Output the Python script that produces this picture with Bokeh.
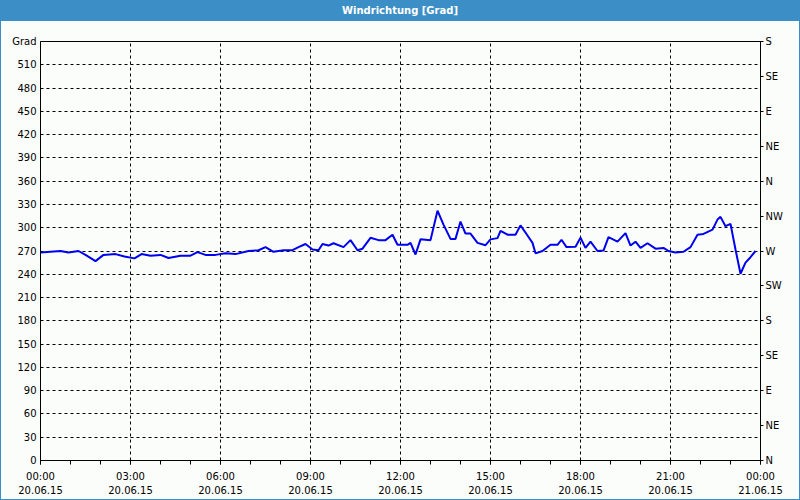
from bokeh.plotting import figure
from bokeh.models import LinearAxis, FixedTicker, Div, ColumnDataSource
from bokeh.layouts import column
from bokeh.embed import file_html
from bokeh.resources import INLINE

# ---- data ----
title_text = "Windrichtung [Grad]"
minutes = [0, 40, 56, 76, 90, 110, 126, 150, 168, 188, 202, 220, 240, 256, 280,
           300, 314, 330, 350, 370, 390, 416, 436, 450, 466, 486, 504, 516, 530,
           544, 556, 564, 576, 586, 606, 620, 634, 644, 660, 676, 690, 704, 714,
           734, 740, 750, 760, 780, 794, 806, 820, 830, 840, 850, 860, 874, 890,
           900, 914, 920, 934, 950, 960, 974, 984, 990, 1004, 1020, 1034, 1042,
           1052, 1070, 1080, 1090, 1100, 1114, 1126, 1136, 1154, 1170, 1180,
           1190, 1200, 1214, 1230, 1246, 1256, 1270, 1286, 1300, 1314, 1326,
           1344, 1354, 1360, 1370, 1380, 1390, 1400, 1410, 1420, 1430]
direction = [268, 270, 268, 270, 265, 257, 265, 266, 263, 260.5, 266, 264, 265,
             261, 264, 264, 268.5, 265, 265, 267, 266, 270, 271, 275, 269, 271,
             271, 275, 279, 272, 271, 279, 277, 280, 275, 284, 271, 273, 287,
             284, 284, 291, 278, 278, 280.5, 265.5, 285, 284, 322, 304, 285.6,
             285.6, 308, 292.5, 292.5, 280.5, 277.5, 285, 286.6, 296, 291, 291,
             303, 290, 280.5, 267, 270, 278, 278, 284.5, 275, 275.5, 287, 274,
             282, 270, 270.5, 288, 282, 293, 277, 282, 274, 280, 273, 274, 270,
             268, 269, 275, 291, 292, 297.5, 310.5, 314, 302, 305, 272, 240.7,
             255, 262, 270]
time_ticks = [0, 3, 6, 9, 12, 15, 18, 21, 24]
time_labels = ["00:00\n20.06.15", "03:00\n20.06.15", "06:00\n20.06.15",
               "09:00\n20.06.15", "12:00\n20.06.15", "15:00\n20.06.15",
               "18:00\n20.06.15", "21:00\n20.06.15", "00:00\n21.06.15"]
deg_ticks = list(range(0, 541, 30))
deg_unit = "Grad"
compass_ticks = list(range(0, 541, 45))
compass_labels = ["N", "NE", "E", "SE", "S", "SW", "W", "NW", "N", "NE", "E", "SE", "S"]

BLUE = "#3C8FC6"
BG = "#FBFDFB"
FONT = "DejaVu Sans"

src = ColumnDataSource(dict(h=[m / 60 for m in minutes], d=direction))

p = figure(width=798, height=478, x_range=(0, 24), y_range=(0, 540),
           output_backend="svg", toolbar_location=None,
           min_border_left=39, min_border_right=39, min_border_top=20,
           min_border_bottom=38, background_fill_color=BG, border_fill_color=BG,
           outline_line_color="black", outline_line_width=1)

p.line("h", "d", source=src, line_color="#0000F0", line_width=2)

# bottom axis
xa = p.xaxis[0]
xa.ticker = FixedTicker(ticks=time_ticks, minor_ticks=list(range(0, 25)))
xa.major_label_overrides = {t: l for t, l in zip(time_ticks, time_labels)}
xa.major_tick_out = 4
xa.major_tick_in = 0
xa.minor_tick_out = 4
xa.minor_tick_in = 0
xa.axis_line_color = "black"
xa.major_label_standoff = 6
xa.major_label_text_font = FONT
xa.major_label_text_font_size = "10px"
xa.major_label_text_color = "black"
xa.major_label_text_line_height = 1.35

# left axis
ya = p.yaxis[0]
ya.ticker = FixedTicker(ticks=deg_ticks, minor_ticks=[])
ya.major_label_overrides = {540: deg_unit}
ya.major_tick_out = 0
ya.major_tick_in = 0
ya.major_label_standoff = 4
ya.major_label_text_font = FONT
ya.major_label_text_font_size = "10px"
ya.major_label_text_color = "black"
ya.axis_line_color = "black"

# right axis
ra = LinearAxis(ticker=FixedTicker(ticks=compass_ticks, minor_ticks=[]))
ra.major_label_overrides = {t: l for t, l in zip(compass_ticks, compass_labels)}
ra.major_tick_out = 3
ra.major_tick_in = 0
ra.major_label_standoff = 2
ra.major_label_text_font = FONT
ra.major_label_text_font_size = "10px"
ra.major_label_text_color = "black"
ra.axis_line_color = "black"
p.add_layout(ra, "right")

# grids (no dashed line on the top border)
p.xgrid.ticker = FixedTicker(ticks=time_ticks)
p.xgrid.grid_line_color = "black"
p.xgrid.grid_line_dash = "3 3"
p.ygrid.ticker = FixedTicker(ticks=deg_ticks[:-1])
p.ygrid.grid_line_color = "black"
p.ygrid.grid_line_dash = "3 3"

title = Div(text=title_text, width=798, height=21,
            styles={"background-color": BLUE, "color": "white",
                    "font-family": FONT, "font-weight": "bold",
                    "font-size": "10px", "text-align": "center",
                    "line-height": "21px", "margin": "0", "padding": "0"})

layout = column(title, p, spacing=0,
                styles={"border-left": "1px solid " + BLUE,
                        "border-right": "1px solid " + BLUE,
                        "border-bottom": "1px solid " + BLUE,
                        "background-color": BG})

open("out.html", "w").write(file_html(layout, INLINE))
